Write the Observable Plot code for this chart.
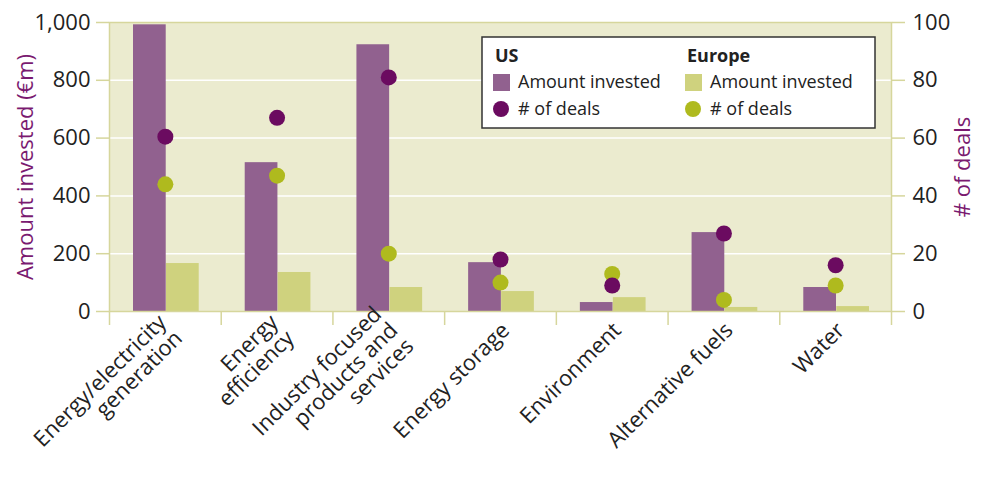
<!DOCTYPE html>
<html>
<head>
<meta charset="utf-8">
<script src="https://cdn.jsdelivr.net/npm/d3@7"></script>
<script src="https://cdn.jsdelivr.net/npm/@observablehq/plot@0.6"></script>
<style>
  html, body { margin: 0; padding: 0; background: #fff; }
  #chart { width: 985px; height: 483px; }
</style>
</head>
<body>
<div id="chart"></div>
<script>
// ---- data ----
const categories = [
  "Energy/electricity\ngeneration",
  "Energy\nefficiency",
  "Industry focused\nproducts and\nservices",
  "Energy storage",
  "Environment",
  "Alternative fuels",
  "Water"
];
const usAmount = [992, 515, 923, 169, 31, 273, 83];
const euAmount = [166, 135, 83, 69, 48, 14, 17];
const usDeals = [60.5, 67, 81, 18, 9, 27, 16];
const euDeals = [44, 47, 20, 10, 13, 4, 9];
const amountTicks = [0, 200, 400, 600, 800, 1000];
const dealsTicks = [0, 20, 40, 60, 80, 100];
const legendGroups = ["US", "Europe"];
const legendItems = ["Amount invested", "# of deals"];

// ---- style ----
const bg = "#ebebcf";
const olive = "#d6d69c";
const usBar = "#91618f";
const euBar = "#cfd27e";
const usDot = "#6b0b60";
const euDot = "#afba1e";
const purple = "#7a1a70";
const font = "'Open Sans', sans-serif";

const W = 985, H = 483, mL = 109, mR = 94, mT = 22, mB = 172;
const bw = (W - mL - mR) / categories.length;
const dealsToAmount = 1000 / 100;

const data = categories.map((c, i) => ({
  cat: c, us: usAmount[i], eu: euAmount[i], usD: usDeals[i], euD: euDeals[i]
}));

const plot = Plot.plot({
  width: W, height: H,
  marginLeft: mL, marginRight: mR, marginTop: mT, marginBottom: mB,
  style: { fontFamily: font, fontSize: "21px", color: "#222", background: "white" },
  x: { domain: categories, padding: 0, round: false, label: null },
  y: { domain: [0, 1000], label: null },
  marks: [
    Plot.frame({ fill: bg, stroke: "none" }),
    Plot.gridY(amountTicks.slice(1, -1), { stroke: "white", strokeOpacity: 1, strokeWidth: 1.5 }),
    Plot.barY(data, { x: "cat", y: "us", fill: usBar, insetLeft: 24, insetRight: 55 }),
    Plot.barY(data, { x: "cat", y: "eu", fill: euBar, insetLeft: 57, insetRight: 22 }),
    Plot.frame({ stroke: olive, strokeWidth: 1.5 }),
    Plot.dot(data, { x: "cat", y: d => d.euD * dealsToAmount, r: 8, fill: euDot }),
    Plot.dot(data, { x: "cat", y: d => d.usD * dealsToAmount, r: 8, fill: usDot }),
    Plot.axisY({ anchor: "left", ticks: amountTicks, tickFormat: d3.format(","), tickSize: 13, tickPadding: 6,
      stroke: olive, strokeWidth: 1.5, fill: "#222", fontSize: 22, label: null }),
    Plot.axisY({ anchor: "right", ticks: dealsTicks.map(d => d * dealsToAmount),
      tickFormat: d => String(Math.round(d / dealsToAmount)), tickSize: 13, tickPadding: 8,
      stroke: olive, strokeWidth: 1.5, fill: "#222", fontSize: 22, label: null }),
    Plot.axisX({ ticks: categories, tickSize: 14, text: null, dx: -bw / 2, stroke: olive, strokeWidth: 1.5, label: null }),
    Plot.axisX({ ticks: [categories[categories.length - 1]], tickSize: 14, text: null, dx: bw / 2, stroke: olive, strokeWidth: 1.5, label: null }),
    Plot.axisX({ ticks: categories, tickSize: 0, tickPadding: 15, tickRotate: -45, dx: 5,
      fontSize: 22, lineHeight: 1.03, fill: "#222", label: null }),
    Plot.text(["Amount invested (€m)"], { frameAnchor: "left", textAnchor: "middle", dx: -84, rotate: -90, fill: purple, fontSize: 22 }),
    Plot.text(["# of deals"], { frameAnchor: "right", textAnchor: "middle", dx: 71, rotate: -90, fill: purple, fontSize: 22 })
  ]
});

// ---- legend inside plot area ----
const svg = d3.select(plot);
const lg = svg.append("g").attr("transform", "translate(482,37)")
  .style("font-family", font).style("font-size", "18px")
  .attr("text-anchor", "start").attr("fill", "#222");
lg.append("rect").attr("width", 393).attr("height", 91)
  .attr("fill", "white").attr("stroke", "#333").attr("stroke-width", 1.5);
const groupColors = [[usBar, usDot], [euBar, euDot]];
legendGroups.forEach((g, gi) => {
  const gx = 11 + gi * 192;
  lg.append("text").attr("x", gx + 2).attr("y", 25).attr("font-weight", "bold").text(g);
  lg.append("rect").attr("x", gx).attr("y", 37).attr("width", 17).attr("height", 17).attr("fill", groupColors[gi][0]);
  lg.append("text").attr("x", gx + 25).attr("y", 51).text(legendItems[0]);
  lg.append("circle").attr("cx", gx + 8).attr("cy", 72).attr("r", 8).attr("fill", groupColors[gi][1]);
  lg.append("text").attr("x", gx + 25).attr("y", 78).text(legendItems[1]);
});

document.getElementById("chart").appendChild(plot);
</script>
</body>
</html>
